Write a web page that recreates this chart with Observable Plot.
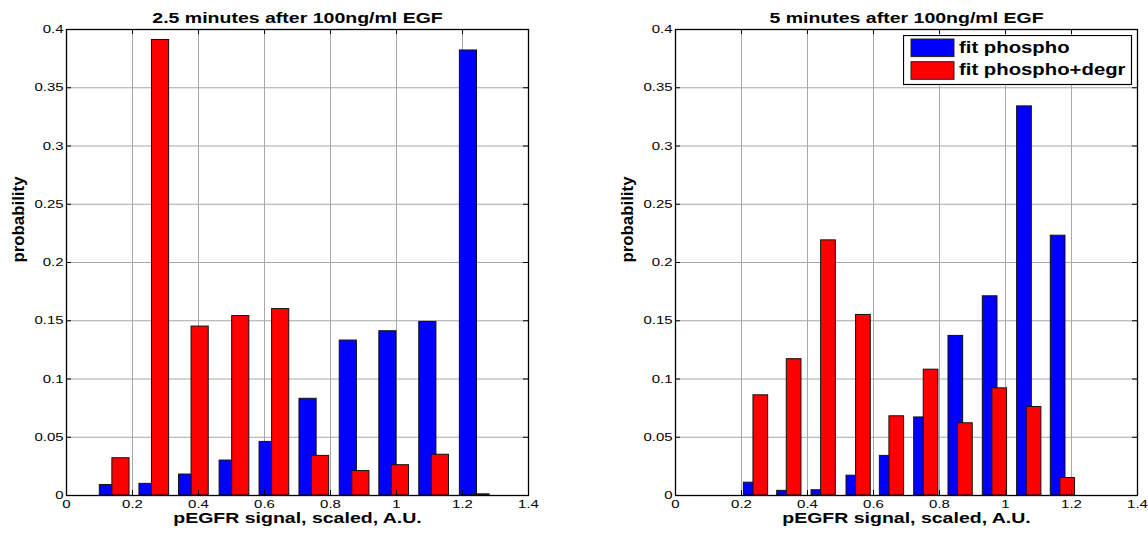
<!DOCTYPE html>
<html><head><meta charset="utf-8">
<script src="https://cdn.jsdelivr.net/npm/d3@7"></script>
<script src="https://cdn.jsdelivr.net/npm/@observablehq/plot@0.6"></script>
<style>
html,body{margin:0;padding:0;background:#fff;}
#chart{position:relative;width:1148px;height:537px;overflow:hidden;font-family:"Liberation Sans",Arial,sans-serif;}
#chart svg{position:absolute;top:0;}
</style></head><body><div id="chart"></div>
<script>
// ---- data ----
const seriesNames = ["fit phospho", "fit phospho+degr"];
const seriesColors = ["#0000ff", "#ff0000"];
const xTicks = [0, 0.2, 0.4, 0.6, 0.8, 1, 1.2, 1.4];
const yTicks = [0, 0.05, 0.1, 0.15, 0.2, 0.25, 0.3, 0.35, 0.4];
const titles = ["2.5 minutes after 100ng/ml EGF", "5 minutes after 100ng/ml EGF"];
const xLabel = "pEGFR signal, scaled, A.U.";
const yLabel = "probability";

// 2.5 minutes panel
const centers25 = [0.146, 0.266, 0.386, 0.509, 0.630, 0.751, 0.873, 0.993, 1.114, 1.237];
const phospho25 = [0.009, 0.010, 0.018, 0.030, 0.046, 0.083, 0.133, 0.141, 0.149, 0.382];
const degr25    = [0.032, 0.391, 0.145, 0.154, 0.160, 0.034, 0.021, 0.026, 0.035, 0.001];

// 5 minutes panel
const centers5 = [0.244, 0.345, 0.449, 0.555, 0.656, 0.760, 0.864, 0.968, 1.072, 1.174];
const phospho5 = [0.011, 0.004, 0.0045, 0.017, 0.034, 0.067, 0.137, 0.171, 0.334, 0.223];
const degr5    = [0.086, 0.117, 0.219, 0.155, 0.068, 0.108, 0.062, 0.092, 0.076, 0.015];

// ---- drawing ----
const chart = document.getElementById("chart");
const FONT = "Liberation Sans, Arial, Helvetica, sans-serif";
const STRETCH = 1.3;

function stretchTexts(svg) {
  svg.querySelectorAll("text").forEach(t => {
    const len = t.getComputedTextLength();
    if (!len) return;
    const tr = t.getAttribute("transform") || "";
    const target = tr.includes("rotate") ? 86 : len * STRETCH;
    t.setAttribute("textLength", target);
    t.setAttribute("lengthAdjust", "spacingAndGlyphs");
  });
}

function panel({centers, blue, red, title, barWidth, offset, marginLeft, marginRight, left}) {
  const W = 574, H = 537, mt = 29, mb = 42;
  const plotW = W - marginLeft - marginRight, plotH = H - mt - mb;
  const rows = [];
  [blue, red].forEach((vals, s) => vals.forEach((v, i) => {
    const c = centers[i] + (s === 0 ? -offset : offset);
    rows.push({series: seriesNames[s], x1: c - barWidth / 2, x2: c + barWidth / 2, y: v});
  }));
  const fmt = d => String(+d.toFixed(3));
  const svg = Plot.plot({
    width: W, height: H, marginLeft, marginRight, marginTop: mt, marginBottom: mb,
    x: {domain: [0, 1.4]},
    y: {domain: [0, 0.4]},
    color: {domain: seriesNames, range: seriesColors},
    style: {fontFamily: FONT, fontSize: "11.5px", color: "black", background: "white", overflow: "visible"},
    marks: [
      Plot.ruleX(xTicks, {stroke: "#a8a8a8", strokeWidth: 1}),
      Plot.ruleY(yTicks, {stroke: "#a8a8a8", strokeWidth: 1}),
      Plot.rect(rows, {x1: "x1", x2: "x2", y1: () => 0, y2: "y", fill: "series", stroke: "#111", strokeWidth: 1}),
      Plot.frame({stroke: "black", strokeWidth: 1.3}),
      Plot.ruleY(yTicks, {insetRight: plotW - 5, stroke: "black"}),
      Plot.ruleY(yTicks, {insetLeft: plotW - 5, stroke: "black"}),
      Plot.ruleX(xTicks, {insetTop: plotH - 5, stroke: "black"}),
      Plot.ruleX(xTicks, {insetBottom: plotH - 5, stroke: "black"}),
      Plot.axisX({ticks: xTicks, tickSize: 0, tickPadding: 4, tickFormat: fmt, label: null}),
      Plot.axisY({ticks: yTicks, tickSize: 0, tickPadding: 3, tickFormat: fmt, label: null}),
      Plot.text([title], {text: d => d, frameAnchor: "top", dy: -17, fontWeight: "bold", fontSize: 15}),
      Plot.text([xLabel], {text: d => d, frameAnchor: "bottom", dy: 27, fontWeight: "bold", fontSize: 15}),
      Plot.text([yLabel], {text: d => d, frameAnchor: "left", dx: -48, rotate: -90, fontWeight: "bold", fontSize: 17})
    ]
  });
  svg.style.left = left + "px";
  chart.appendChild(svg);
  stretchTexts(svg);
}

panel({centers: centers25, blue: phospho25, red: degr25, title: titles[0],
       barWidth: 0.052, offset: 0.019, marginLeft: 66, marginRight: 46, left: 0});
panel({centers: centers5, blue: phospho5, red: degr5, title: titles[1],
       barWidth: 0.0445, offset: 0.0145, marginLeft: 101, marginRight: 11, left: 574});

// legend (right panel)
const lg = d3.create("svg")
  .attr("width", 230).attr("height", 51)
  .style("left", "903px").style("top", "35px");
lg.append("rect").attr("x", 0.5).attr("y", 0.5).attr("width", 228).attr("height", 49)
  .attr("fill", "white").attr("stroke", "black").attr("stroke-width", 1.2);
seriesNames.forEach((name, i) => {
  lg.append("rect").attr("x", 8).attr("y", 4 + i * 22.7).attr("width", 43).attr("height", 17.6)
    .attr("fill", seriesColors[i]).attr("stroke", "#222").attr("stroke-width", 1);
  lg.append("text").attr("x", 56).attr("y", 17.8 + i * 22)
    .attr("font-family", FONT).attr("font-weight", "bold").attr("font-size", 16)
    .attr("fill", "black").text(name);
});
chart.appendChild(lg.node());
lg.selectAll("text").each(function() {
  const len = this.getComputedTextLength();
  this.setAttribute("textLength", len * 1.27);
  this.setAttribute("lengthAdjust", "spacingAndGlyphs");
});
</script>
</body></html>
